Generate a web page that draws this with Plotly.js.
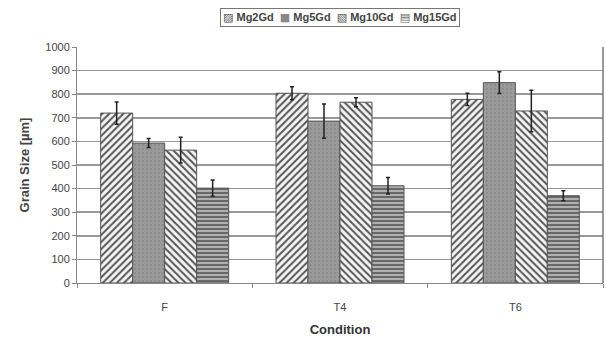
<!DOCTYPE html>
<html>
<head>
<meta charset="utf-8">
<script src="https://cdn.plot.ly/plotly-3.0.1.min.js"></script>
<style>html,body{margin:0;padding:0;background:#fff;}#chart{width:606px;height:345px;}</style>
</head>
<body>
<div id="chart"></div>
<script>
const conditions = ["F", "T4", "T6"];
const seriesNames = ["Mg2Gd", "Mg5Gd", "Mg10Gd", "Mg15Gd"];
const legendGlyphs = ["▨", "■", "▧", "▤"];
const mg2gd = [720, 804, 778];
const mg2gdErr = [47, 28, 26];
const mg5gd = [593, 686, 849];
const mg5gdErr = [19, 73, 46];
const mg10gd = [563, 766, 729];
const mg10gdErr = [55, 19, 88];
const mg15gd = [402, 412, 370];
const mg15gdErr = [34, 35, 21];

const values = [mg2gd, mg5gd, mg10gd, mg15gd];
const errors = [mg2gdErr, mg5gdErr, mg10gdErr, mg15gdErr];
const patterns = [
  {shape: "/", fgcolor: "#555", bgcolor: "#f4f4f4", size: 5, solidity: 0.4},
  {shape: ".", fgcolor: "#888", bgcolor: "#9a9a9a", size: 4, solidity: 0.2},
  {shape: "\\", fgcolor: "#555", bgcolor: "#f4f4f4", size: 5, solidity: 0.4},
  {shape: "-", fgcolor: "#555", bgcolor: "#b0b0b0", size: 4, solidity: 0.4}
];
const glyphColors = ["#555", "#888", "#555", "#666"];

const traces = seriesNames.map((n, i) => ({
  type: "bar",
  name: n,
  x: conditions,
  y: values[i],
  marker: {color: patterns[i].bgcolor, pattern: patterns[i], line: {color: "#555", width: 1}},
  error_y: {type: "data", array: errors[i], visible: true, color: "#222", thickness: 1.5, width: 2}
}));

const NB = "\u00a0";
const legendText = seriesNames.map((n, i) =>
  '<span style="font-family:DejaVu Sans;color:' + glyphColors[i] + '">' + legendGlyphs[i] + '</span>' + NB + n
).join(NB + NB);

const layout = {
  width: 606, height: 345,
  margin: {l: 77, r: 3, t: 47, b: 62},
  paper_bgcolor: "#fff", plot_bgcolor: "#fff",
  barmode: "group", bargap: 0.27, bargroupgap: 0,
  font: {family: "Liberation Sans, Arial, sans-serif", color: "#333"},
  showlegend: false,
  annotations: [{
    text: "<b>" + legendText + "</b>",
    xref: "paper", yref: "paper", x: 0.5, y: 1.127, xanchor: "center", yanchor: "middle",
    showarrow: false, bordercolor: "#777", borderwidth: 1, borderpad: 2, bgcolor: "#fff",
    font: {size: 11, color: "#444", family: "Liberation Sans, Arial, sans-serif"}
  }],
  xaxis: {
    title: {text: "Condition", font: {size: 13, color: "#333", weight: "bold"}, standoff: 12},
    tickfont: {size: 11, color: "#444"},
    showline: true, linecolor: "#888", linewidth: 1,
    ticks: "outside", tickson: "boundaries", ticklen: 4, tickcolor: "#888",
    ticklabelstandoff: 14,
    showgrid: false, zeroline: false
  },
  yaxis: {
    title: {text: "Grain Size [µm]", font: {size: 13, color: "#444", weight: "bold"}, standoff: 12},
    range: [0, 1000], dtick: 100,
    tickfont: {size: 11, color: "#444"},
    showline: true, linecolor: "#888", linewidth: 1,
    ticks: "outside", ticklen: 4, tickcolor: "#888",
    showgrid: true, gridcolor: "#999", gridwidth: 1.5, zeroline: false
  },
  shapes: [
    {type: "line", xref: "paper", yref: "paper", x0: 1, x1: 1, y0: 0, y1: 1, line: {color: "#777", width: 1.5}}
  ]
};

Plotly.newPlot("chart", traces, layout, {displayModeBar: false, staticPlot: true});
</script>
</body>
</html>
